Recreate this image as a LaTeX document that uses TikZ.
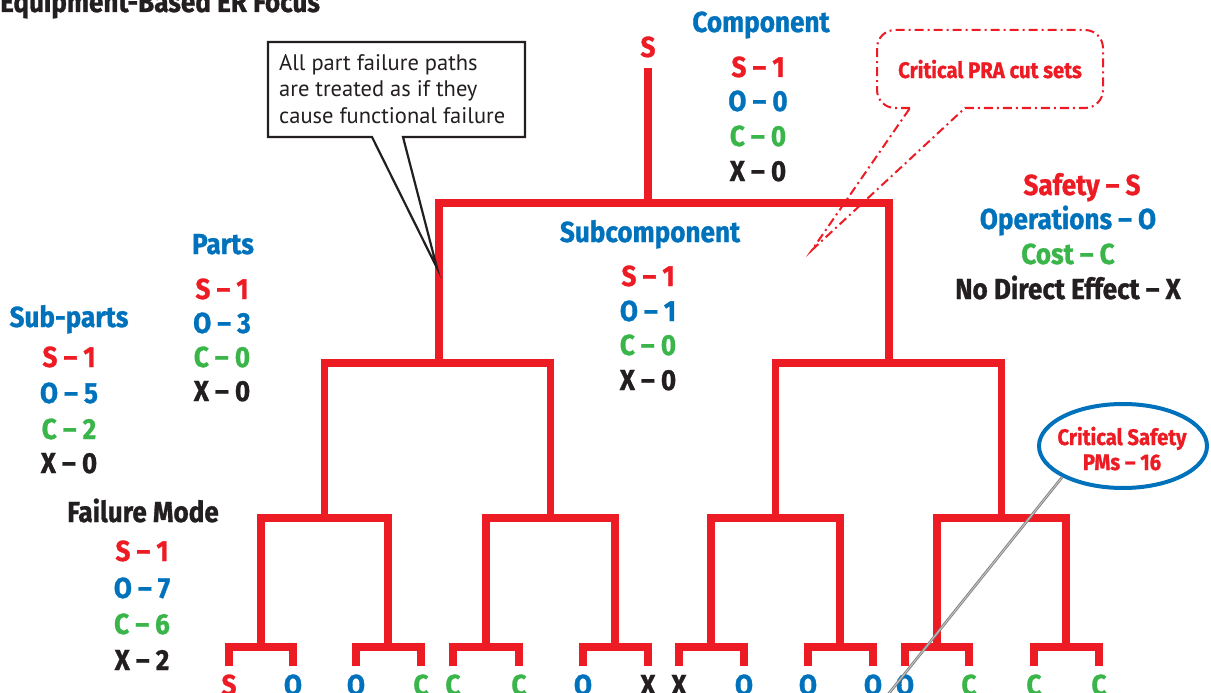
\documentclass[tikz,border=0pt]{standalone}
\usepackage{fontspec}
\usetikzlibrary{shapes.geometric}
\newfontfamily\hdfont{Fira Sans}[FakeStretch=0.9, BoldFeatures={FakeBold=1.0}]
\newfontfamily\notefont{PT Sans}
\definecolor{fmred}{HTML}{ED1C24}
\definecolor{fmblue}{HTML}{0072BC}
\definecolor{fmgreen}{HTML}{39B54A}
\definecolor{fmblack}{HTML}{231F20}
% one bracket of the tree: legs at #1 and #2, bar at height #3, legs down to #4
\newcommand\fork[4]{\draw[branch] (#1,#4) -- (#1,#3) -- (#2,#3) -- (#2,#4);}
\begin{document}
\begin{tikzpicture}[x=1pt,y=-1pt,
  branch/.style={draw=fmred, line width=7.5pt},
  hd/.style={inner sep=0pt, anchor=base, yshift=-1pt, font=\hdfont\bfseries\fontsize{29}{32}\selectfont},
  sv/.style={hd, text=fmred},
  ov/.style={hd, text=fmblue},
  cv/.style={hd, text=fmgreen},
  xv/.style={hd, text=fmblack},
  small/.style={inner sep=0pt, anchor=base, font=\hdfont\bfseries\fontsize{22.5}{26}\selectfont, text=fmred},
  graylink/.style={draw=black!50, double=black!22, double distance=0.9pt, line width=0.9pt}]
\useasboundingbox (0,0) rectangle (1211,693);

% ---- tree ----
\draw[branch] (648,68) -- (648,203);
\fork{439}{889}{203}{363}
\fork{324.5}{550.5}{363}{518}
\fork{775.5}{1001.5}{363}{518}
\fork{261}{388}{518}{647}
\fork{486}{615}{518}{647}
\fork{711}{840}{518}{647}
\fork{937}{1066}{518}{647}
\fork{229}{293}{647}{666}
\fork{356}{421}{647}{666}
\fork{453}{519}{647}{666}
\fork{583}{648}{647}{666}
\fork{679}{744}{647}{666}
\fork{808}{873}{647}{666}
\fork{905}{969}{647}{666}
\fork{1034}{1099}{647}{666}

% ---- leaf effects ----
\foreach \x/\l/\s in {229/S/sv, 293/O/ov, 356/O/ov, 421/C/cv, 453/C/cv, 519/C/cv,
    583/O/ov, 648/X/xv, 679/X/xv, 744/O/ov, 808/O/ov, 873/O/ov, 905/O/ov,
    969/C/cv, 1034/C/cv, 1099/C/cv}
  \node[\s] (leaf\x) at (\x,694) {\l};

% ---- title ----
\node[xv, anchor=base west] (title) at (0,11) {Equipment-Based ER Focus};

% ---- component ----
\node[sv] (rootS) at (648,56) {S};
\node[ov] (comp) at (761,31) {Component};
\node[sv] (compS) at (758,76) {S – 1};
\node[ov] (compO) at (758,110) {O – 0};
\node[cv] (compC) at (758,145) {C – 0};
\node[xv] (compX) at (758,180) {X – 0};

% ---- subcomponent ----
\node[ov] (sub) at (650,241) {Subcomponent};
\node[sv] (subS) at (648,285) {S – 1};
\node[ov] (subO) at (648,320) {O – 1};
\node[cv] (subC) at (648,354) {C – 0};
\node[xv] (subX) at (648,389) {X – 0};

% ---- parts ----
\node[ov] (parts) at (223,253) {Parts};
\node[sv] (partsS) at (222,298) {S – 1};
\node[ov] (partsO) at (222,332) {O – 3};
\node[cv] (partsC) at (222,366) {C – 0};
\node[xv] (partsX) at (222,400) {X – 0};

% ---- sub-parts ----
\node[ov] (sparts) at (69,326) {Sub-parts};
\node[sv] (spartsS) at (69,366) {S – 1};
\node[ov] (spartsO) at (69,402) {O – 5};
\node[cv] (spartsC) at (69,438) {C – 2};
\node[xv] (spartsX) at (69,472) {X – 0};

% ---- failure mode ----
\node[xv] (fmode) at (143,521) {Failure Mode};
\node[sv] (fmS) at (142,560) {S – 1};
\node[ov] (fmO) at (142,597) {O – 7};
\node[cv] (fmC) at (142,633) {C – 6};
\node[xv] (fmX) at (142,669) {X – 2};

% ---- legend ----
\node[sv] (lgS) at (1082,194) {Safety – S};
\node[ov] (lgO) at (1068,228) {Operations – O};
\node[cv] (lgC) at (1068,263) {Cost – C};
\node[xv] (lgX) at (1068,298) {No Direct Effect – X};

% ---- note callout ----
\draw[fill=white, draw=fmblack, line width=2.2pt, line join=miter]
  (372,137) -- (268,137) -- (268,42) -- (525,42) -- (525,137) -- (403,137) -- (437,268) -- cycle;
\node[inner sep=0pt, anchor=base west, align=left, text=fmblack,
      font=\notefont\fontsize{22.5}{26.5}\selectfont] (note) at (279,123)
  {All part failure paths\\are treated as if they\\cause functional failure};

% ---- PRA cut set callout ----
\draw[draw=fmred, line width=2pt, dash pattern=on 9pt off 4pt on 2pt off 4pt]
  (910,108) [rounded corners=18pt] -- (877,108) -- (877,30) -- (1103,30) -- (1103,108)
  [sharp corners] -- (965,108) -- (812,250) -- cycle;
\node[small] (pra) at (990,78) {Critical PRA cut sets};

% ---- critical safety PMs ----
\node[ellipse, draw=fmblue, line width=4pt, fill=white, minimum width=168pt, minimum height=84pt,
      inner sep=0pt] (pm) at (1123,446) {};
\node[small] (pm1) at (1122,445) {Critical Safety};
\node[small] (pm2) at (1122,470) {PMs – 16};
\coordinate (gEnd) at (882,702);
\draw[graylink] (pm.south west) -- (gEnd);
\end{tikzpicture}
\end{document}
